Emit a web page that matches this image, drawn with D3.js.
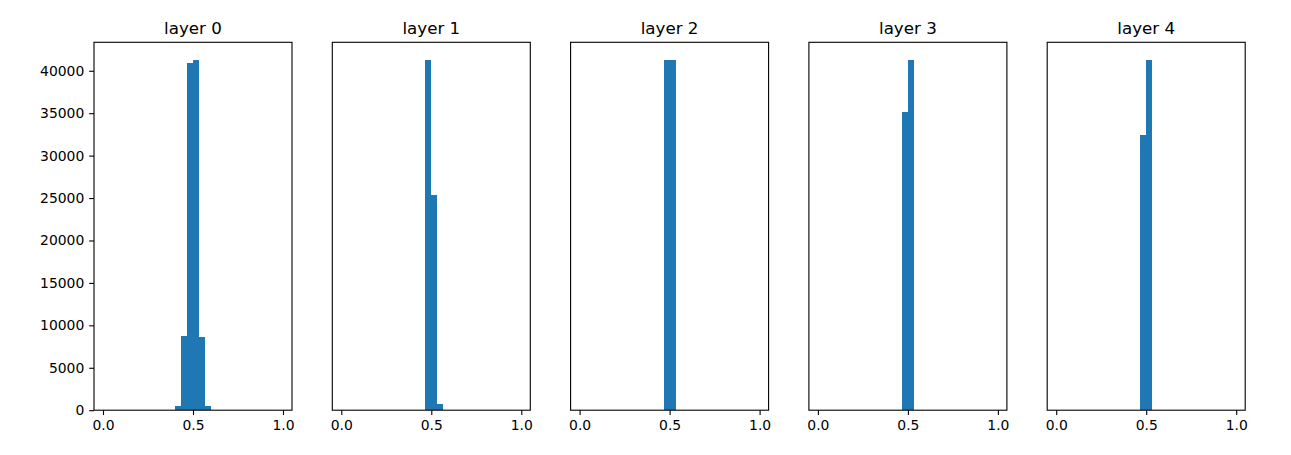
<!DOCTYPE html>
<html>
<head>
<meta charset="utf-8">
<script src="https://cdn.jsdelivr.net/npm/d3@7"></script>
<style>
  html, body { margin: 0; padding: 0; background: #fff; }
  svg { display: block; font-family: "DejaVu Sans", sans-serif; }
</style>
</head>
<body>
<svg id="chart" width="1291" height="455"></svg>
<script>
// ---- data ----
const layerNames = ["layer 0", "layer 1", "layer 2", "layer 3", "layer 4"];
const binIndex = [12, 13, 14, 15, 16, 17];        // histogram bins (30 bins over [0,1])
const binCount = 30;
const layer0 = [470, 8700, 40940, 41290, 8600, 470];
const layer1 = [0, 0, 41290, 25400, 700, 0];
const layer2 = [0, 0, 41290, 41290, 0, 0];
const layer3 = [0, 0, 35100, 41290, 0, 0];
const layer4 = [0, 0, 32400, 41290, 0, 0];
const layers = [layer0, layer1, layer2, layer3, layer4];
const xTicks = [0.0, 0.5, 1.0];
const yTicks = [0, 5000, 10000, 15000, 20000, 25000, 30000, 35000, 40000];

// ---- layout ----
const svg = d3.select("#chart");
const axLeft0 = 94, axW = 198, axStep = 238.3, axTop = 42.3, axBottom = 410.2;
const tickLen = 4.86, tickPad = 4.86;
const color = "#1f77b4";

const maxVal = d3.max(layers.flat());
const y = d3.scaleLinear().domain([0, maxVal * 1.05]).range([axBottom, axTop]);

layers.forEach((vals, li) => {
  const left = axLeft0 + li * axStep;
  const x = d3.scaleLinear().domain([-0.05, 1.05]).range([left, left + axW]);
  const g = svg.append("g");

  // bars
  g.selectAll("rect.bar")
    .data(binIndex.map((b, i) => ({ b, v: vals[i] })).filter(d => d.v > 0))
    .enter().append("rect")
    .attr("x", d => x(d.b / binCount))
    .attr("width", d => x((d.b + 1) / binCount) - x(d.b / binCount))
    .attr("y", d => y(d.v))
    .attr("height", d => y(0) - y(d.v))
    .attr("fill", color)
    .attr("shape-rendering", "crispEdges");

  // x axis
  const xa = g.append("g")
    .attr("transform", `translate(0,${axBottom})`)
    .call(d3.axisBottom(x).tickValues(xTicks).tickFormat(d3.format(".1f"))
      .tickSize(tickLen).tickPadding(tickPad).tickSizeOuter(0));
  xa.select(".domain").remove();
  xa.selectAll("line").attr("stroke", "#000").attr("stroke-width", 1.1);
  xa.selectAll("text").attr("font-size", "13.9px").attr("fill", "#000")
    .attr("font-family", "DejaVu Sans, sans-serif");

  // y axis (labels only on first)
  const ya = g.append("g")
    .attr("transform", `translate(${left},0)`)
    .call(d3.axisLeft(y).tickValues(li === 0 ? yTicks : []).tickFormat(d3.format("d"))
      .tickSize(tickLen).tickPadding(tickPad).tickSizeOuter(0));
  ya.select(".domain").remove();
  ya.selectAll("line").attr("stroke", "#000").attr("stroke-width", 1.1);
  ya.selectAll("text").attr("font-size", "13.9px").attr("fill", "#000")
    .attr("font-family", "DejaVu Sans, sans-serif");

  // spines
  g.append("rect")
    .attr("x", left).attr("y", axTop)
    .attr("width", axW).attr("height", axBottom - axTop)
    .attr("fill", "none").attr("stroke", "#000").attr("stroke-width", 1.1);

  // title
  g.append("text")
    .attr("x", left + axW / 2).attr("y", axTop - 8.3)
    .attr("text-anchor", "middle")
    .attr("font-size", "16.7px")
    .attr("fill", "#000")
    .text(layerNames[li]);
});
</script>
</body>
</html>
